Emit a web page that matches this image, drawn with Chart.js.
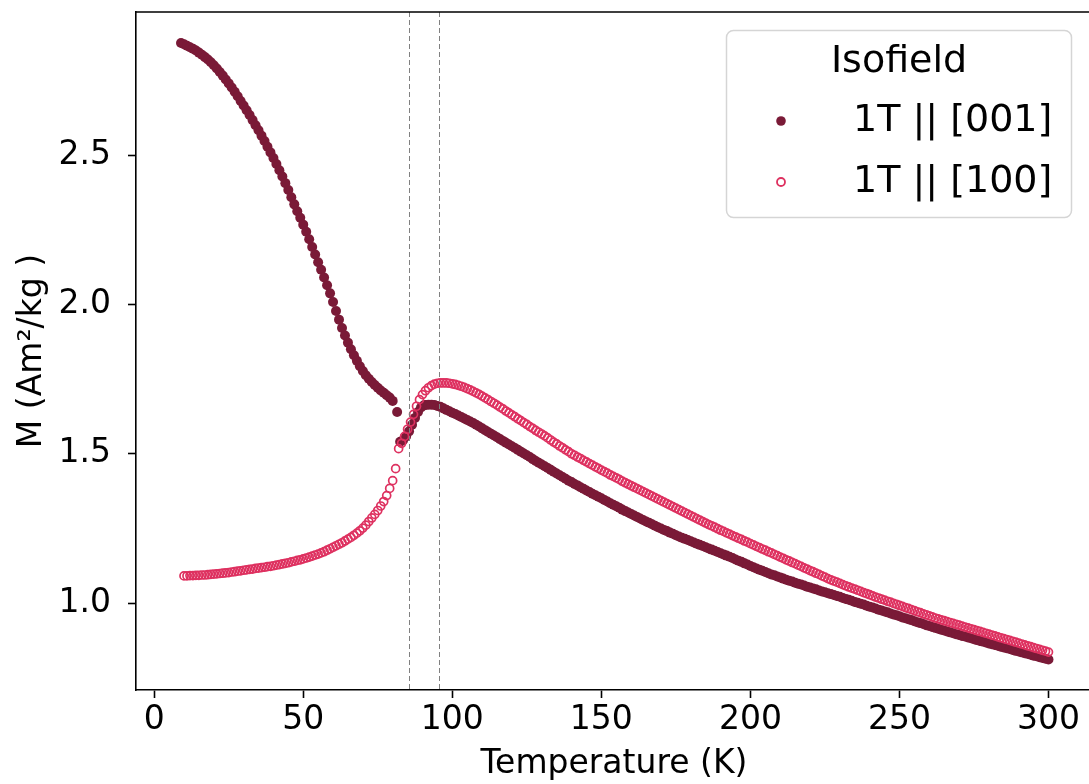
<!DOCTYPE html>
<html>
<head>
<meta charset="utf-8">
<script src="https://cdn.jsdelivr.net/npm/chart.js@4.4.0/dist/chart.umd.min.js"></script>
<style>
  html, body { margin: 0; padding: 0; background: #fff; overflow: hidden; }
  canvas { display: block; }
</style>
</head>
<body>
<canvas id="myChart" width="1100" height="784"></canvas>
<script>
// Isofield M(T) at 1 T, field along [001]
const tempPar = [
  9, 10, 11, 12, 13, 14, 15, 16, 17, 18,
  19, 20, 21, 22, 23, 24, 25, 26, 27, 28,
  29, 30, 31, 32, 33, 34, 35, 36, 37, 38,
  39, 40, 41, 42, 43, 44, 45, 46, 47, 48,
  49, 50, 51, 52, 53, 54, 55, 56, 57, 58,
  59, 60, 61, 62, 63, 64, 65, 66, 67, 68,
  69, 70, 71, 72, 73, 74, 75, 76, 77, 78,
  79, 80, 81.5, 82.5, 83.5, 84.5, 85.5, 86.5, 87.5, 88.5,
  89.5, 90.5, 91, 92, 93, 94, 95, 96, 97, 98,
  99, 100, 101, 102, 103, 104, 105, 106, 107, 108,
  109, 110, 111, 112, 113, 114, 115, 116, 117, 118,
  119, 120, 121, 122, 123, 124, 125, 126, 127, 128,
  129, 130, 131, 132, 133, 134, 135, 136, 137, 138,
  139, 140, 141, 142, 143, 144, 145, 146, 147, 148,
  149, 150, 151, 152, 153, 154, 155, 156, 157, 158,
  159, 160, 161, 162, 163, 164, 165, 166, 167, 168,
  169, 170, 171, 172, 173, 174, 175, 176, 177, 178,
  179, 180, 181, 182, 183, 184, 185, 186, 187, 188,
  189, 190, 191, 192, 193, 194, 195, 196, 197, 198,
  199, 200, 201, 202, 203, 204, 205, 206, 207, 208,
  209, 210, 211, 212, 213, 214, 215, 216, 217, 218,
  219, 220, 221, 222, 223, 224, 225, 226, 227, 228,
  229, 230, 231, 232, 233, 234, 235, 236, 237, 238,
  239, 240, 241, 242, 243, 244, 245, 246, 247, 248,
  249, 250, 251, 252, 253, 254, 255, 256, 257, 258,
  259, 260, 261, 262, 263, 264, 265, 266, 267, 268,
  269, 270, 271, 272, 273, 274, 275, 276, 277, 278,
  279, 280, 281, 282, 283, 284, 285, 286, 287, 288,
  289, 290, 291, 292, 293, 294, 295, 296, 297, 298,
  299, 300
];
const magPar = [
  2.875, 2.871, 2.866, 2.861, 2.856, 2.850, 2.843, 2.836, 2.828, 2.820,
  2.811, 2.801, 2.790, 2.778, 2.766, 2.753, 2.740, 2.726, 2.712, 2.697,
  2.681, 2.666, 2.650, 2.634, 2.617, 2.600, 2.583, 2.565, 2.547, 2.528,
  2.509, 2.490, 2.470, 2.449, 2.428, 2.406, 2.383, 2.359, 2.335, 2.312,
  2.290, 2.267, 2.243, 2.218, 2.192, 2.167, 2.141, 2.116, 2.090, 2.064,
  2.037, 2.008, 1.978, 1.949, 1.921, 1.896, 1.872, 1.850, 1.830, 1.811,
  1.793, 1.777, 1.763, 1.751, 1.740, 1.730, 1.721, 1.712, 1.704, 1.696,
  1.688, 1.677, 1.640, 1.540, 1.545, 1.558, 1.575, 1.597, 1.620, 1.640,
  1.655, 1.662, 1.663, 1.664, 1.664, 1.663, 1.660, 1.657, 1.652, 1.647,
  1.642, 1.637, 1.633, 1.628, 1.623, 1.618, 1.613, 1.608, 1.603, 1.597,
  1.591, 1.585, 1.579, 1.573, 1.567, 1.561, 1.555, 1.549, 1.543, 1.537,
  1.531, 1.525, 1.519, 1.513, 1.507, 1.501, 1.495, 1.489, 1.482, 1.476,
  1.470, 1.464, 1.458, 1.452, 1.446, 1.440, 1.434, 1.428, 1.422, 1.416,
  1.410, 1.405, 1.399, 1.394, 1.388, 1.383, 1.377, 1.372, 1.366, 1.361,
  1.356, 1.351, 1.345, 1.340, 1.334, 1.329, 1.324, 1.319, 1.313, 1.308,
  1.303, 1.298, 1.293, 1.288, 1.283, 1.278, 1.273, 1.269, 1.264, 1.259,
  1.254, 1.250, 1.245, 1.241, 1.236, 1.232, 1.227, 1.223, 1.219, 1.215,
  1.211, 1.207, 1.203, 1.199, 1.195, 1.191, 1.187, 1.183, 1.179, 1.175,
  1.171, 1.167, 1.163, 1.159, 1.155, 1.151, 1.146, 1.142, 1.138, 1.133,
  1.129, 1.124, 1.120, 1.116, 1.112, 1.108, 1.104, 1.100, 1.096, 1.093,
  1.089, 1.086, 1.082, 1.078, 1.075, 1.072, 1.068, 1.065, 1.062, 1.059,
  1.055, 1.052, 1.049, 1.046, 1.042, 1.039, 1.036, 1.033, 1.030, 1.027,
  1.024, 1.021, 1.017, 1.014, 1.011, 1.008, 1.004, 1.001, 0.998, 0.995,
  0.991, 0.988, 0.985, 0.982, 0.978, 0.975, 0.972, 0.969, 0.965, 0.962,
  0.959, 0.956, 0.952, 0.949, 0.946, 0.943, 0.939, 0.936, 0.933, 0.930,
  0.926, 0.923, 0.920, 0.917, 0.914, 0.911, 0.908, 0.905, 0.902, 0.899,
  0.896, 0.893, 0.890, 0.888, 0.885, 0.882, 0.879, 0.876, 0.873, 0.871,
  0.868, 0.865, 0.862, 0.860, 0.857, 0.854, 0.851, 0.849, 0.846, 0.843,
  0.840, 0.838, 0.835, 0.832, 0.830, 0.827, 0.824, 0.822, 0.819, 0.816,
  0.814, 0.811
];

// field along [100]
const tempPerp = [
  10, 11, 12, 13, 14, 15, 16, 17, 18, 19,
  20, 21, 22, 23, 24, 25, 26, 27, 28, 29,
  30, 31, 32, 33, 34, 35, 36, 37, 38, 39,
  40, 41, 42, 43, 44, 45, 46, 47, 48, 49,
  50, 51, 52, 53, 54, 55, 56, 57, 58, 59,
  60, 61, 62, 63, 64, 65, 66, 67, 68, 69,
  70, 71, 72, 73, 74, 75, 76, 77, 78, 79,
  80, 81, 82, 83, 84, 85, 86, 87, 88, 89,
  90, 91, 92, 93, 94, 95, 96, 97, 98, 99,
  100, 101, 102, 103, 104, 105, 106, 107, 108, 109,
  110, 111, 112, 113, 114, 115, 116, 117, 118, 119,
  120, 121, 122, 123, 124, 125, 126, 127, 128, 129,
  130, 131, 132, 133, 134, 135, 136, 137, 138, 139,
  140, 141, 142, 143, 144, 145, 146, 147, 148, 149,
  150, 151, 152, 153, 154, 155, 156, 157, 158, 159,
  160, 161, 162, 163, 164, 165, 166, 167, 168, 169,
  170, 171, 172, 173, 174, 175, 176, 177, 178, 179,
  180, 181, 182, 183, 184, 185, 186, 187, 188, 189,
  190, 191, 192, 193, 194, 195, 196, 197, 198, 199,
  200, 201, 202, 203, 204, 205, 206, 207, 208, 209,
  210, 211, 212, 213, 214, 215, 216, 217, 218, 219,
  220, 221, 222, 223, 224, 225, 226, 227, 228, 229,
  230, 231, 232, 233, 234, 235, 236, 237, 238, 239,
  240, 241, 242, 243, 244, 245, 246, 247, 248, 249,
  250, 251, 252, 253, 254, 255, 256, 257, 258, 259,
  260, 261, 262, 263, 264, 265, 266, 267, 268, 269,
  270, 271, 272, 273, 274, 275, 276, 277, 278, 279,
  280, 281, 282, 283, 284, 285, 286, 287, 288, 289,
  290, 291, 292, 293, 294, 295, 296, 297, 298, 299,
  300
];
const magPerp = [
  1.091, 1.091, 1.092, 1.092, 1.093, 1.093, 1.094, 1.094, 1.095, 1.096,
  1.097, 1.098, 1.099, 1.100, 1.101, 1.102, 1.104, 1.105, 1.107, 1.108,
  1.110, 1.111, 1.113, 1.114, 1.116, 1.117, 1.119, 1.120, 1.122, 1.123,
  1.125, 1.127, 1.129, 1.131, 1.133, 1.135, 1.138, 1.140, 1.143, 1.145,
  1.148, 1.151, 1.154, 1.157, 1.161, 1.164, 1.168, 1.172, 1.177, 1.182,
  1.187, 1.192, 1.197, 1.202, 1.208, 1.214, 1.220, 1.227, 1.234, 1.242,
  1.251, 1.261, 1.273, 1.285, 1.297, 1.310, 1.325, 1.340, 1.360, 1.384,
  1.410, 1.450, 1.517, 1.535, 1.558, 1.582, 1.606, 1.632, 1.659, 1.681,
  1.698, 1.711, 1.721, 1.728, 1.733, 1.736, 1.737, 1.737, 1.737, 1.736,
  1.734, 1.732, 1.729, 1.726, 1.722, 1.718, 1.714, 1.709, 1.704, 1.699,
  1.693, 1.687, 1.681, 1.675, 1.669, 1.663, 1.656, 1.650, 1.643, 1.637,
  1.630, 1.624, 1.617, 1.611, 1.604, 1.598, 1.591, 1.585, 1.578, 1.572,
  1.566, 1.560, 1.553, 1.546, 1.539, 1.533, 1.526, 1.520, 1.513, 1.507,
  1.500, 1.495, 1.489, 1.484, 1.478, 1.473, 1.467, 1.462, 1.456, 1.451,
  1.445, 1.440, 1.435, 1.429, 1.424, 1.419, 1.414, 1.408, 1.403, 1.398,
  1.393, 1.388, 1.383, 1.378, 1.373, 1.368, 1.363, 1.358, 1.353, 1.348,
  1.343, 1.338, 1.333, 1.328, 1.323, 1.318, 1.313, 1.308, 1.303, 1.298,
  1.293, 1.288, 1.283, 1.278, 1.273, 1.268, 1.263, 1.259, 1.254, 1.249,
  1.244, 1.240, 1.235, 1.231, 1.226, 1.222, 1.217, 1.213, 1.208, 1.204,
  1.199, 1.195, 1.190, 1.186, 1.181, 1.177, 1.172, 1.168, 1.163, 1.159,
  1.154, 1.150, 1.145, 1.141, 1.136, 1.132, 1.127, 1.123, 1.118, 1.114,
  1.109, 1.105, 1.100, 1.096, 1.091, 1.087, 1.082, 1.078, 1.074, 1.070,
  1.066, 1.062, 1.058, 1.054, 1.050, 1.047, 1.043, 1.039, 1.035, 1.032,
  1.028, 1.024, 1.020, 1.017, 1.013, 1.010, 1.006, 1.003, 0.999, 0.996,
  0.992, 0.989, 0.985, 0.982, 0.978, 0.975, 0.971, 0.968, 0.964, 0.961,
  0.957, 0.954, 0.950, 0.947, 0.944, 0.941, 0.938, 0.935, 0.932, 0.929,
  0.926, 0.923, 0.920, 0.917, 0.914, 0.911, 0.908, 0.905, 0.902, 0.899,
  0.896, 0.893, 0.890, 0.887, 0.884, 0.881, 0.878, 0.875, 0.872, 0.869,
  0.866, 0.863, 0.860, 0.857, 0.854, 0.851, 0.848, 0.845, 0.842, 0.839,
  0.836
];

const seriesLabels = ['1T || [001]', '1T || [100]'];
const legendTitle = 'Isofield';
const transitionTemps = [85.6, 95.4];
const xTicks = [0, 50, 100, 150, 200, 250, 300];
const yTicks = [1.0, 1.5, 2.0, 2.5];

const DARK = '#7a1a37';
const PINK = '#de3160';
const FONT = 'DejaVu Sans';

const toPoints = (xs, ys) => xs.map((x, i) => ({ x: x, y: ys[i] }));

// top/right spines like matplotlib
const framePlugin = {
  id: 'frame',
  afterDraw: (chart) => {
    const { ctx, chartArea } = chart;
    ctx.save();
    ctx.strokeStyle = '#000';
    ctx.lineWidth = 1.6;
    ctx.beginPath();
    ctx.moveTo(chartArea.left, chartArea.top);
    ctx.lineTo(chartArea.right, chartArea.top);
    ctx.lineTo(chartArea.right, chartArea.bottom);
    ctx.stroke();
    ctx.restore();
  },
};

// dashed vertical lines at the transitions
const vlinePlugin = {
  id: 'vlines',
  afterDatasetsDraw: (chart) => {
    const { ctx, chartArea } = chart;
    const xScale = chart.scales.x;
    ctx.save();
    ctx.strokeStyle = '#808080';
    ctx.lineWidth = 1;
    ctx.setLineDash([5, 3]);
    transitionTemps.forEach((t) => {
      const px = Math.round(xScale.getPixelForValue(t)) + 0.5;
      ctx.beginPath();
      ctx.moveTo(px, chartArea.top);
      ctx.lineTo(px, chartArea.bottom);
      ctx.stroke();
    });
    ctx.restore();
  },
};

// legend box drawn inside the axes, upper right
const legendPlugin = {
  id: 'isofieldLegend',
  afterDraw: (chart) => {
    const ctx = chart.ctx;
    ctx.save();
    ctx.beginPath();
    ctx.roundRect(726.5, 30.5, 345, 187, 7);
    ctx.fillStyle = 'rgba(255,255,255,0.8)';
    ctx.fill();
    ctx.strokeStyle = '#d5d5d5';
    ctx.lineWidth = 1.5;
    ctx.stroke();

    ctx.fillStyle = '#000';
    ctx.textBaseline = 'middle';
    ctx.font = '38px "' + FONT + '"';
    ctx.textAlign = 'center';
    ctx.fillText(legendTitle, 899, 62);

    ctx.textAlign = 'left';
    const rows = [121, 182];
    // filled dot
    ctx.beginPath();
    ctx.arc(781, rows[0], 4.8, 0, Math.PI * 2);
    ctx.fillStyle = DARK;
    ctx.fill();
    // open circle
    ctx.beginPath();
    ctx.arc(781, rows[1], 4, 0, Math.PI * 2);
    ctx.strokeStyle = PINK;
    ctx.lineWidth = 1.8;
    ctx.stroke();

    ctx.fillStyle = '#000';
    seriesLabels.forEach((label, i) => {
      ctx.fillText(label, 853, rows[i]);
    });
    ctx.restore();
  },
};

const ctx = document.getElementById('myChart').getContext('2d');
new Chart(ctx, {
  type: 'scatter',
  data: {
    datasets: [
      {
        label: seriesLabels[0],
        data: toPoints(tempPar, magPar),
        pointRadius: 5,
        pointBackgroundColor: DARK,
        pointBorderColor: DARK,
        pointBorderWidth: 0,
        order: 2,
      },
      {
        label: seriesLabels[1],
        data: toPoints(tempPerp, magPerp),
        pointRadius: 4,
        pointBackgroundColor: 'rgba(0,0,0,0)',
        pointBorderColor: PINK,
        pointBorderWidth: 1.7,
        order: 1,
      },
    ],
  },
  options: {
    responsive: false,
    animation: false,
    devicePixelRatio: 1,
    events: [],
    layout: { padding: { top: 12, right: 8, left: 0, bottom: 0 } },
    plugins: {
      legend: { display: false },
      tooltip: { enabled: false },
    },
    scales: {
      x: {
        type: 'linear',
        min: -6.1,
        max: 314.6,
        afterFit: (s) => { s.height = 94; s.paddingLeft = 0; s.paddingRight = 0; },
        afterBuildTicks: (s) => { s.ticks = xTicks.map((v) => ({ value: v })); },
        grid: { drawOnChartArea: false, drawTicks: true, tickLength: 8, tickWidth: 1.6, tickColor: '#000' },
        border: { color: '#000', width: 1.6 },
        ticks: {
          color: '#000',
          font: { family: FONT, size: 33 },
          padding: 3,
          maxRotation: 0,
          callback: (v) => String(v),
        },
        title: {
          display: true,
          text: 'Temperature (K)',
          color: '#000',
          font: { family: FONT, size: 33 },
          padding: { top: 0, bottom: 0 },
        },
      },
      y: {
        type: 'linear',
        min: 0.709,
        max: 2.979,
        afterFit: (s) => { s.width = 136; s.paddingTop = 0; s.paddingBottom = 0; },
        afterBuildTicks: (s) => { s.ticks = yTicks.map((v) => ({ value: v })); },
        grid: { drawOnChartArea: false, drawTicks: true, tickLength: 8, tickWidth: 1.6, tickColor: '#000' },
        border: { color: '#000', width: 1.6 },
        ticks: {
          color: '#000',
          font: { family: FONT, size: 33 },
          padding: 17,
          callback: (v) => v.toFixed(1),
        },
        title: {
          display: true,
          text: 'M (Am²/kg )',
          color: '#000',
          font: { family: FONT, size: 33 },
          padding: { top: 13, bottom: 0 },
        },
      },
    },
  },
  plugins: [framePlugin, vlinePlugin, legendPlugin],
});
</script>
</body>
</html>
